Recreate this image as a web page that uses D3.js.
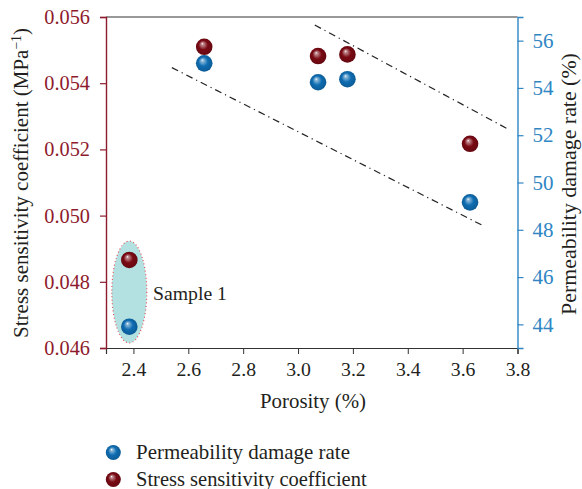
<!DOCTYPE html>
<html><head><meta charset="utf-8">
<script src="https://cdn.jsdelivr.net/npm/d3@7"></script>
<style>body{margin:0;background:#fff}svg{display:block}svg text{font-family:"Liberation Serif","Tinos","DejaVu Serif",serif}</style>
</head><body><svg id="c" width="582" height="489"></svg>
<script>
const porosity = [2.385, 2.658, 3.073, 3.18, 3.627];
const stressCoef = [0.04866, 0.0551, 0.05482, 0.05487, 0.05217];
const permDamage = [43.9, 55.04, 54.24, 54.37, 49.16];
const xTicks = [2.4, 2.6, 2.8, 3.0, 3.2, 3.4, 3.6, 3.8];
const leftTicks = [0.046, 0.048, 0.050, 0.052, 0.054, 0.056];
const rightTicks = [44, 46, 48, 50, 52, 54, 56];
const trendLower = [[2.54, 54.86], [3.67, 48.2]];
const trendUpper = [[3.061, 56.66], [3.767, 52.25]];
const legendLabels = ["Permeability damage rate", "Stress sensitivity coefficient"];

const RED = "#7a0a14", BLUE = "#0f6db2", LAX = "#8e1b2c", RAX = "#2f86c3", INK = "#231f20";
const svg = d3.select("#c");
const L = 106, R = 517.5, T = 17, B = 348;
const x = d3.scaleLinear().domain([2.3, 3.8]).range([L, R]);
const yL = d3.scaleLinear().domain([0.046, 0.056]).range([B, T]);
const yR = d3.scaleLinear().domain([43, 57]).range([B, T]);

function fit(sel, w) {
  sel.attr("font-size", 20);
  const cur = sel.node().getComputedTextLength();
  const fs = 20 * w / cur;
  sel.attr("font-size", fs);
  return fs;
}

const defs = svg.append("defs");
function grad(id, c) {
  const g = defs.append("radialGradient").attr("id", id).attr("cx", "0.5").attr("cy", "0.5").attr("r", "0.55").attr("fx", "0.38").attr("fy", "0.3");
  g.append("stop").attr("offset", "0").attr("stop-color", "#ffffff");
  g.append("stop").attr("offset", "0.12").attr("stop-color", d3.interpolateRgb("#ffffff", c)(0.45));
  g.append("stop").attr("offset", "0.5").attr("stop-color", c);
  g.append("stop").attr("offset", "1").attr("stop-color", d3.color(c).darker(0.6));
}
grad("gb", BLUE); grad("gr", RED);

svg.append("line").attr("x1", L).attr("x2", R).attr("y1", T).attr("y2", T).attr("stroke", "#333").attr("stroke-width", 1.2);

// ellipse sample 1
svg.append("ellipse").attr("cx", x(2.385)).attr("cy", 292).attr("rx", 17.5).attr("ry", 51)
  .attr("fill", "#b3e1e2").attr("stroke", "#e8474a").attr("stroke-width", 1.1).attr("stroke-dasharray", "1,2.5");
const st = svg.append("text").attr("x", 153).attr("y", 300).attr("fill", INK).text("Sample 1");
fit(st, 74);

// trend lines
const line = d3.line().x(d => x(d[0])).y(d => yR(d[1]));
[trendLower, trendUpper].forEach(t => svg.append("path").attr("d", line(t)).attr("fill", "none")
  .attr("stroke", "#222").attr("stroke-width", 1.2).attr("stroke-dasharray", "7,4,1.2,4"));

// axes
const gx = svg.append("g").attr("transform", `translate(0,${B})`)
  .call(d3.axisBottom(x).tickValues(xTicks).tickFormat(d3.format(".1f")).tickSizeOuter(0).tickSize(6));
gx.attr("font-family", null).attr("font-size", null);
gx.select(".domain").attr("stroke", "#333").attr("stroke-width", 1.2);
gx.selectAll(".tick line").attr("stroke", "#333");
const xfs = fit(gx.select(".tick text"), 24.7);
gx.selectAll("text").attr("font-size", xfs).attr("fill", INK).attr("y", 14).attr("dy", "0.71em");

const gl = svg.append("g").attr("transform", `translate(${L},0)`)
  .call(d3.axisLeft(yL).tickValues(leftTicks).tickFormat(d3.format(".3f")).tickSizeOuter(0).tickSize(6));
gl.attr("font-family", null).attr("font-size", null);
gl.select(".domain").attr("stroke", LAX).attr("stroke-width", 1.4);
gl.selectAll(".tick line").attr("stroke", LAX).attr("stroke-width", 1.2);
const lfs = fit(gl.select(".tick text"), 45.7);
gl.selectAll("text").attr("font-size", lfs).attr("fill", LAX).attr("x", -16);

const gr = svg.append("g").attr("transform", `translate(${R},0)`)
  .call(d3.axisRight(yR).tickValues(rightTicks).tickSizeOuter(0).tickSize(6));
gr.attr("font-family", null).attr("font-size", null);
gr.select(".domain").attr("stroke", RAX).attr("stroke-width", 1.4);
gr.selectAll(".tick line").attr("stroke", RAX).attr("stroke-width", 1.2);
const rfs = fit(gr.select(".tick text"), 21);
gr.selectAll("text").attr("font-size", rfs).attr("fill", RAX).attr("x", 15);

// axis titles
const xt = svg.append("text").attr("x", 313).attr("y", 408).attr("text-anchor", "middle").attr("fill", INK).text("Porosity (%)");
fit(xt, 106);
const lt = svg.append("text").attr("transform", `translate(28,183) rotate(-90)`).attr("text-anchor", "middle").attr("fill", INK);
lt.append("tspan").text("Stress sensitivity coefficient (MPa");
lt.append("tspan").attr("baseline-shift", "super").attr("font-size", "65%").text("−1");
lt.append("tspan").text(")");
fit(lt, 310);
const rt = svg.append("text").attr("transform", `translate(576,184) rotate(-90)`).attr("text-anchor", "middle").attr("fill", INK).text("Permeability damage rate (%)");
fit(rt, 262);

// points
const pts = porosity.map((p, i) => ({p, s: stressCoef[i], k: permDamage[i]}));
svg.append("g").selectAll("circle").data(pts).join("circle")
  .attr("cx", d => x(d.p)).attr("cy", d => yR(d.k)).attr("r", 8.3).attr("fill", "url(#gb)");
svg.append("g").selectAll("circle").data(pts).join("circle")
  .attr("cx", d => x(d.p)).attr("cy", d => yL(d.s)).attr("r", 8.3).attr("fill", "url(#gr)");

// legend
const legW = [214, 230.7];
legendLabels.forEach((t, i) => {
  const yy = 452.5 + i * 27;
  svg.append("circle").attr("cx", 113.3).attr("cy", yy).attr("r", 7.5).attr("fill", i === 0 ? "url(#gb)" : "url(#gr)");
  const tx = svg.append("text").attr("x", 136).attr("y", yy).attr("dy", "0.3em").attr("fill", INK).text(t);
  fit(tx, legW[i]);
});
</script></body></html>
